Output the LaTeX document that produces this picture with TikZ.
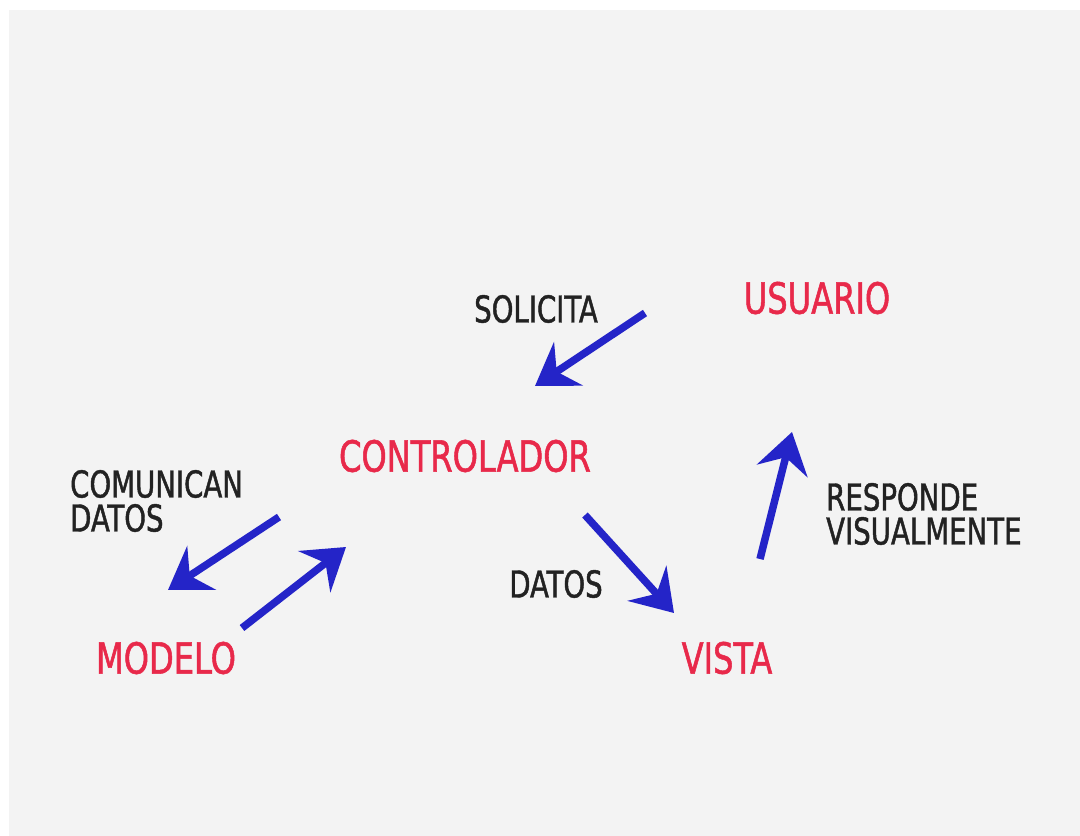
\documentclass[tikz,border=0pt]{standalone}
\usepackage{fontspec}
\setmainfont[FakeStretch=0.83, FakeBold=1.2]{DejaVu Sans Condensed}
\usetikzlibrary{arrows.meta}
\definecolor{panel}{HTML}{F3F3F3}
\definecolor{actor}{HTML}{E8294A}
\definecolor{flow}{HTML}{2424C8}
\definecolor{ink}{HTML}{222222}
\tikzset{
  actorlabel/.style={inner sep=0pt, text=actor, font=\fontsize{43}{43}\selectfont},
  flowlabel/.style={inner sep=0pt, text=ink, align=left, font=\fontsize{37}{34}\selectfont},
  flowarrow/.style={draw=flow, line width=7.5pt,
    -{Stealth[length=40pt, width=52pt, inset=14pt, fill=flow]}}
}
\begin{document}
\begin{tikzpicture}[x=1pt, y=-1pt]
  \useasboundingbox (0,0) rectangle (1080,836);
  \fill[white] (0,0) rectangle (1080,836);
  \fill[panel] (9,10) rectangle (1080,836);

  % components of the pattern
  \node[actorlabel] (usuario) at (817,298) {USUARIO};
  \node[actorlabel] (controlador) at (465,456) {CONTROLADOR};
  \node[actorlabel] (modelo) at (166,658) {MODELO};
  \node[actorlabel] (vista) at (727,658) {VISTA};

  % descriptions of the exchanges
  \node[flowlabel] (solicita) at (536,309) {SOLICITA};
  \node[flowlabel, anchor=west] (comunican) at (70,501) {COMUNICAN\\DATOS};
  \node[flowlabel] (datos) at (556,584) {DATOS};
  \node[flowlabel, anchor=west] (responde) at (826,514) {RESPONDE\\VISUALMENTE};

  % arrow ends
  \coordinate (s1) at (645,313);  \coordinate (s2) at (535,386);
  \coordinate (c1) at (279,517);  \coordinate (c2) at (168,590);
  \coordinate (m1) at (242,628);  \coordinate (m2) at (346,547);
  \coordinate (d1) at (585,515);  \coordinate (d2) at (674,613);
  \coordinate (r1) at (760,559);  \coordinate (r2) at (792,432);

  \draw[flowarrow] (s1) -- (s2);
  \draw[flowarrow] (c1) -- (c2);
  \draw[flowarrow] (m1) -- (m2);
  \draw[flowarrow] (d1) -- (d2);
  \draw[flowarrow] (r1) -- (r2);
\end{tikzpicture}
\end{document}
